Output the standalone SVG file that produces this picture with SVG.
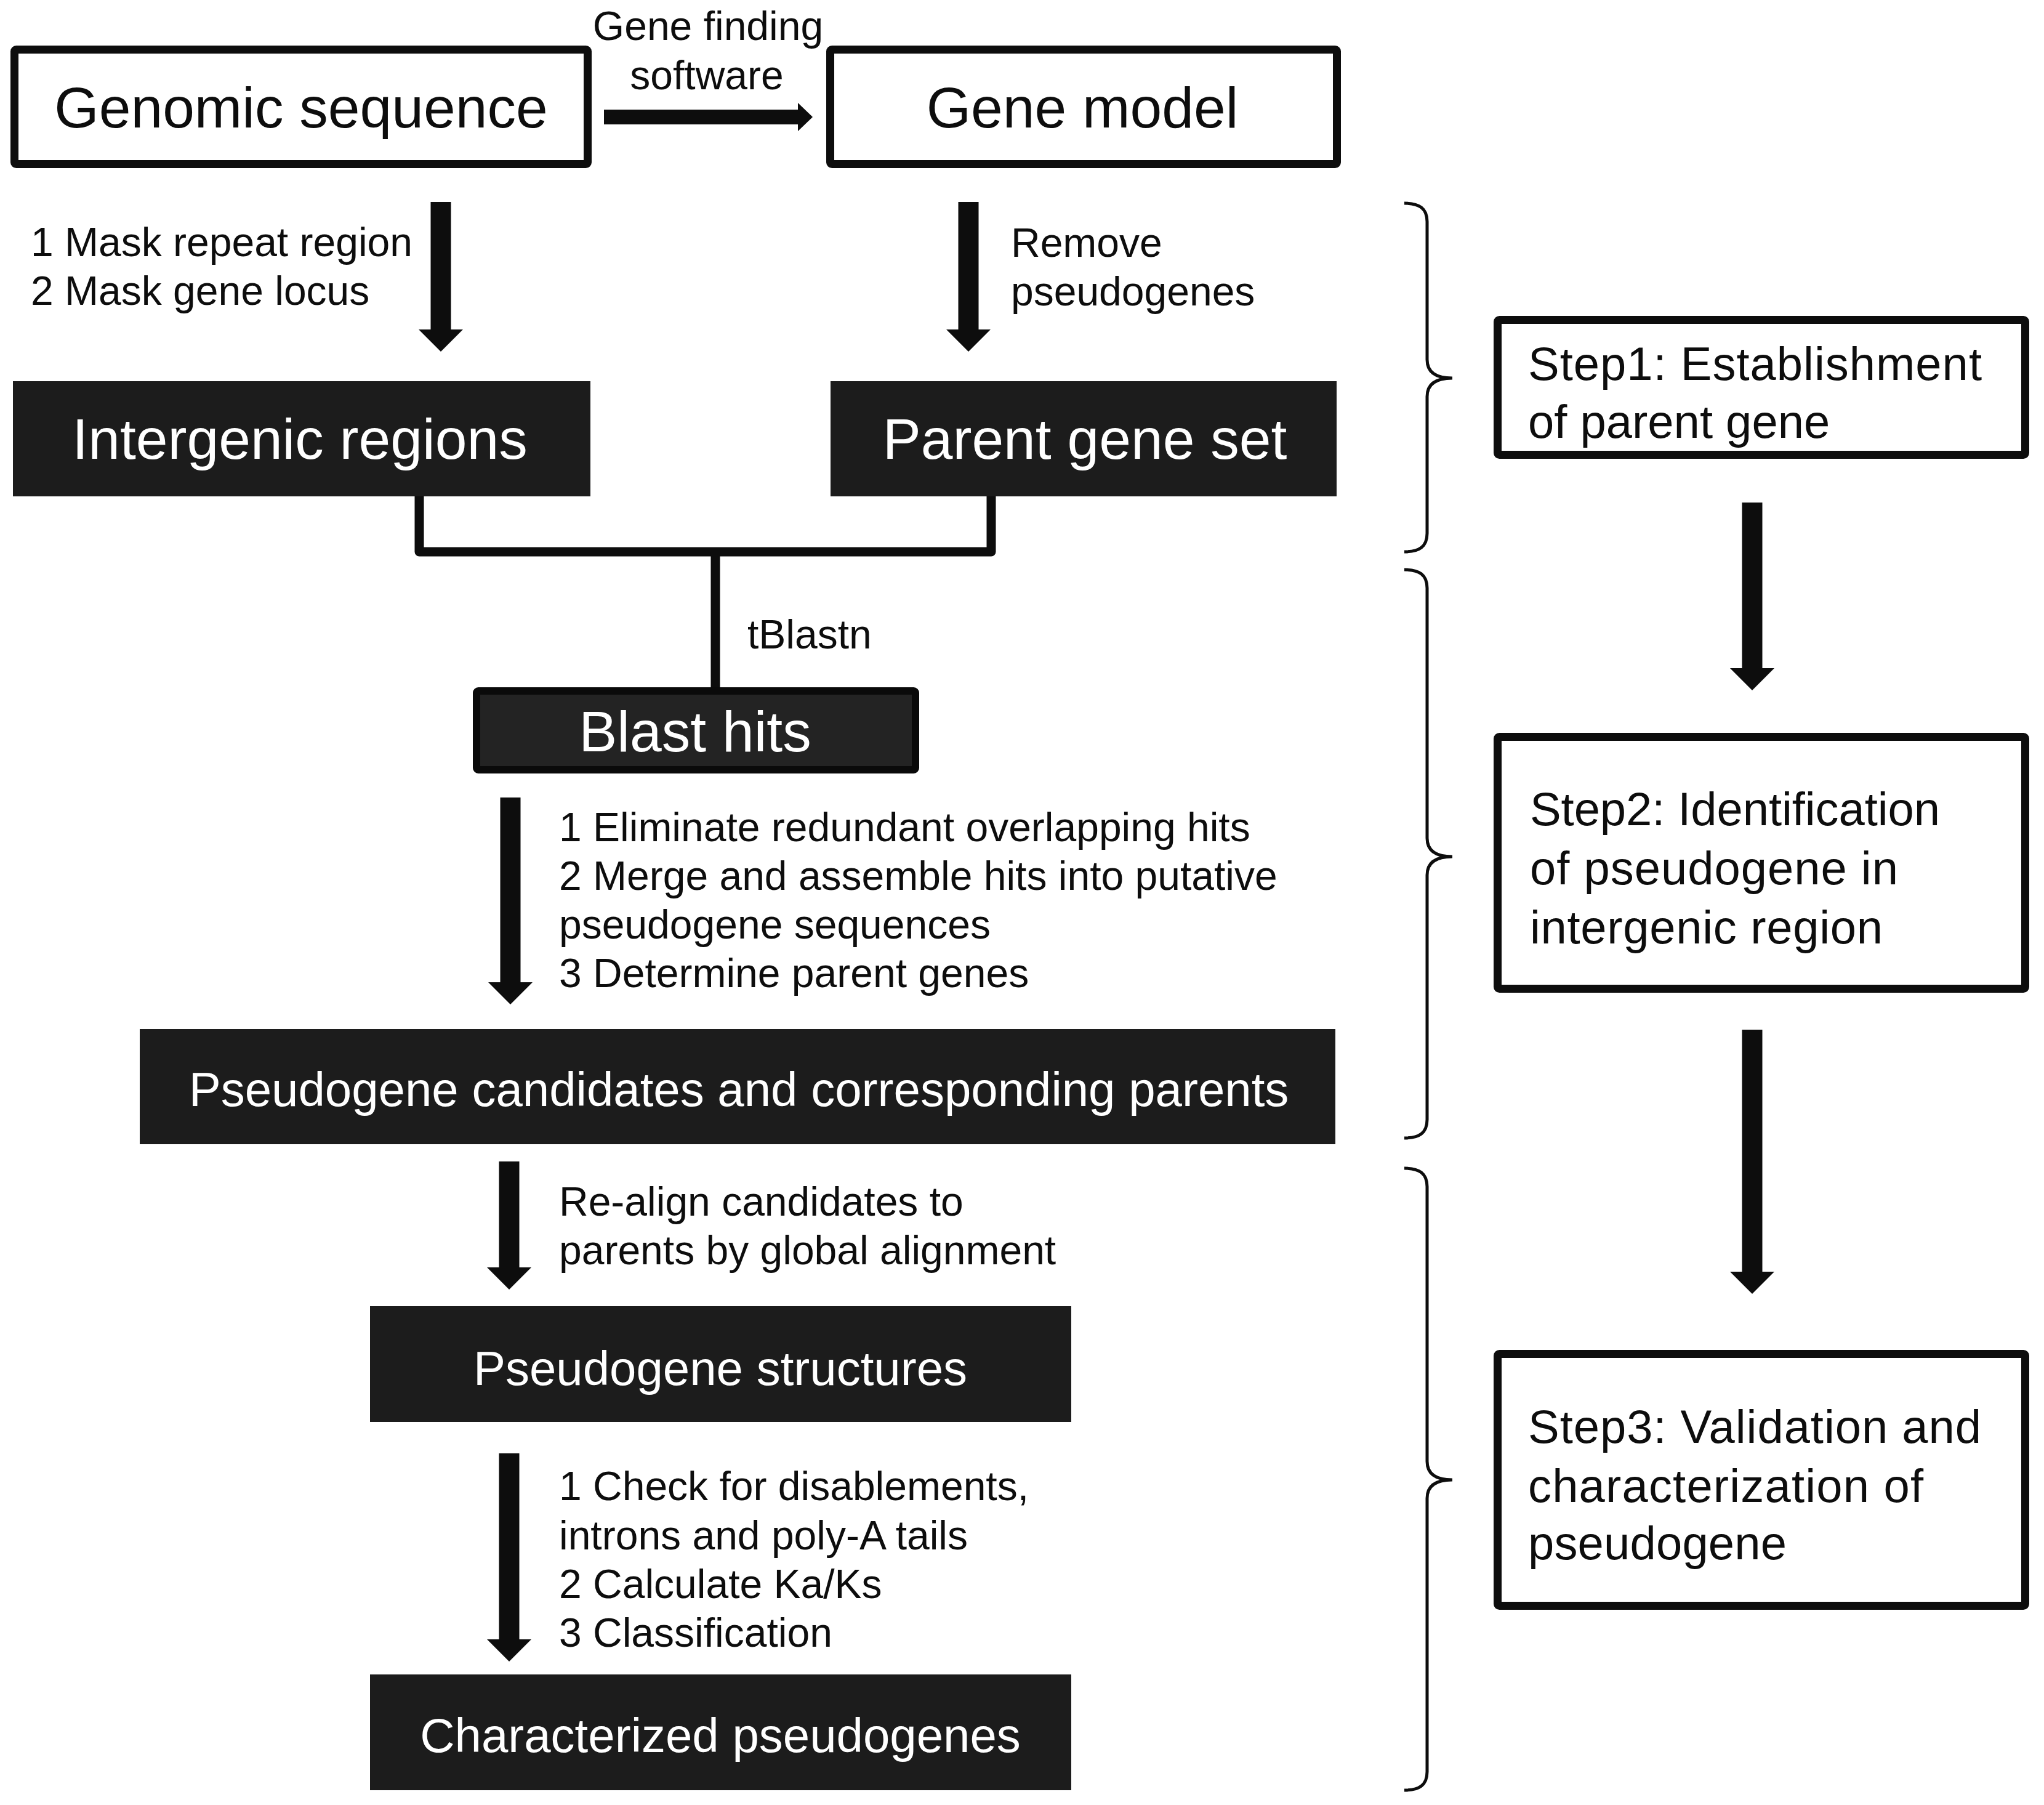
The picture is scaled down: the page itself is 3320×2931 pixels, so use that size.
<svg xmlns="http://www.w3.org/2000/svg" width="3320" height="2931" viewBox="0 0 3320 2931">
<style>
text{font-family:"Liberation Sans",Arial,sans-serif;}
.wbox{fill:#fff;stroke:#0d0d0d;stroke-width:13;}
.bbox{fill:#1c1c1c;}
.btxt{fill:#fff;text-anchor:middle;}
.t93{font-size:93px;}
.t78{font-size:78px;}
.lbl{font-size:66px;fill:#0d0d0d;}
.step{font-size:76px;fill:#0d0d0d;}
.shaft{stroke:#0d0d0d;stroke-width:33;fill:none;}
.conn{stroke:#0d0d0d;stroke-width:15;fill:none;stroke-linejoin:round;}
.brace{stroke:#0d0d0d;stroke-width:5;fill:none;}
</style>
<defs>
<marker id="ah" viewBox="0 0 36 72" refX="0" refY="36" markerWidth="36" markerHeight="72" markerUnits="userSpaceOnUse" orient="auto">
<path d="M0,0 L36,36 L0,72 Z" fill="#0d0d0d"/>
</marker>
<marker id="ahs" viewBox="0 0 24 46" refX="0" refY="23" markerWidth="24" markerHeight="46" markerUnits="userSpaceOnUse" orient="auto">
<path d="M0,0 L24,23 L0,46 Z" fill="#0d0d0d"/>
</marker>
</defs>
<rect width="3320" height="2931" fill="#fff"/>

<g id="n-genomic">
<rect class="wbox" x="23.5" y="80.5" width="931" height="186" rx="3"/>
<text class="t93" x="489" y="207" text-anchor="middle" fill="#0d0d0d">Genomic sequence</text>
</g>
<g id="n-genemodel">
<rect class="wbox" x="1348.5" y="80.5" width="823" height="186" rx="3"/>
<text class="t93" x="1758" y="207" text-anchor="middle" fill="#0d0d0d">Gene model</text>
</g>
<g id="n-intergenic">
<rect class="bbox" x="21" y="619" width="938" height="187"/>
<text class="btxt t93" x="487" y="745">Intergenic regions</text>
</g>
<g id="n-parent">
<rect class="bbox" x="1349" y="619" width="822" height="187"/>
<text class="btxt t93" x="1762" y="745">Parent gene set</text>
</g>
<g id="n-blast">
<rect x="774" y="1122" width="713" height="128" fill="#232323" stroke="#0a0a0a" stroke-width="12" rx="3"/>
<text class="btxt t93" x="1129" y="1220">Blast hits</text>
</g>
<g id="n-candidates">
<rect class="bbox" x="227" y="1671" width="1942" height="187"/>
<text class="btxt t78" x="1200" y="1796">Pseudogene candidates and corresponding parents</text>
</g>
<g id="n-structures">
<rect class="bbox" x="601" y="2121" width="1139" height="188"/>
<text class="btxt t78" x="1170" y="2249">Pseudogene structures</text>
</g>
<g id="n-characterized">
<rect class="bbox" x="601" y="2719" width="1139" height="188"/>
<text class="btxt t78" x="1170" y="2845">Characterized pseudogenes</text>
</g>
<g id="n-step1">
<rect class="wbox" x="2432.5" y="519.5" width="857" height="219" rx="3"/>
<text class="step" x="2482" y="617" textLength="737" lengthAdjust="spacing">Step1: Establishment</text>
<text class="step" x="2482" y="711">of parent gene</text>
</g>
<g id="n-step2">
<rect class="wbox" x="2432.5" y="1196.5" width="857" height="409" rx="3"/>
<text class="step" x="2485" y="1340" textLength="666" lengthAdjust="spacing">Step2: Identification</text>
<text class="step" x="2485" y="1436" textLength="598" lengthAdjust="spacing">of pseudogene in</text>
<text class="step" x="2485" y="1532" textLength="573" lengthAdjust="spacing">intergenic region</text>
</g>
<g id="n-step3">
<rect class="wbox" x="2432.5" y="2198.5" width="857" height="409" rx="3"/>
<text class="step" x="2482" y="2343" textLength="736" lengthAdjust="spacing">Step3: Validation  and</text>
<text class="step" x="2482" y="2439" textLength="642" lengthAdjust="spacing">characterization of</text>
<text class="step" x="2482" y="2532" textLength="420" lengthAdjust="spacing">pseudogene</text>
</g>

<g id="connectors">
<line x1="981" y1="190" x2="1296" y2="190" stroke="#0d0d0d" stroke-width="24" marker-end="url(#ahs)"/>
<line class="shaft" x1="716" y1="328" x2="716" y2="535" marker-end="url(#ah)"/>
<line class="shaft" x1="1573" y1="328" x2="1573" y2="535" marker-end="url(#ah)"/>
<polyline class="conn" points="681,806 681,896 1610,896 1610,806"/>
<line class="conn" x1="1162" y1="896" x2="1162" y2="1116"/>
<line class="shaft" x1="829" y1="1295" x2="829" y2="1595" marker-end="url(#ah)"/>
<line class="shaft" x1="827" y1="1886" x2="827" y2="2058" marker-end="url(#ah)"/>
<line class="shaft" x1="827" y1="2360" x2="827" y2="2662" marker-end="url(#ah)"/>
<line class="shaft" x1="2846" y1="816" x2="2846" y2="1085" marker-end="url(#ah)"/>
<line class="shaft" x1="2846" y1="1672" x2="2846" y2="2065" marker-end="url(#ah)"/>
</g>

<g id="labels">
<text class="lbl" x="1150" y="65" text-anchor="middle">Gene finding</text>
<text class="lbl" x="1148" y="145" text-anchor="middle">software</text>
<text class="lbl" x="50" y="416">1 Mask repeat region</text>
<text class="lbl" x="50" y="495">2 Mask gene locus</text>
<text class="lbl" x="1642" y="417">Remove</text>
<text class="lbl" x="1642" y="496">pseudogenes</text>
<text class="lbl" x="1214" y="1053">tBlastn</text>
<text class="lbl" x="908" y="1366">1 Eliminate redundant overlapping hits</text>
<text class="lbl" x="908" y="1445">2 Merge and assemble hits into putative</text>
<text class="lbl" x="908" y="1524">pseudogene sequences</text>
<text class="lbl" x="908" y="1603">3 Determine parent genes</text>
<text class="lbl" x="908" y="1974">Re-align candidates to</text>
<text class="lbl" x="908" y="2053">parents by global alignment</text>
<text class="lbl" x="908" y="2436">1 Check for disablements,</text>
<text class="lbl" x="908" y="2516">introns and poly-A tails</text>
<text class="lbl" x="908" y="2595">2 Calculate Ka/Ks</text>
<text class="lbl" x="908" y="2674">3 Classification</text>
</g>

<g id="braces">
<path class="brace" d="M2281,330 C2305,330 2318,338 2318,360 L2318,584 C2318,606 2335,614 2359,614 C2335,614 2318,622 2318,644 L2318,866 C2318,888 2305,896 2281,896"/>
<path class="brace" d="M2281,925 C2305,925 2318,933 2318,955 L2318,1361 C2318,1383 2335,1391 2359,1391 C2335,1391 2318,1399 2318,1421 L2318,1818 C2318,1840 2305,1848 2281,1848"/>
<path class="brace" d="M2281,1897 C2305,1897 2318,1905 2318,1927 L2318,2373 C2318,2395 2335,2403 2359,2403 C2335,2403 2318,2411 2318,2433 L2318,2877 C2318,2899 2305,2907 2281,2907"/>
</g>
</svg>
